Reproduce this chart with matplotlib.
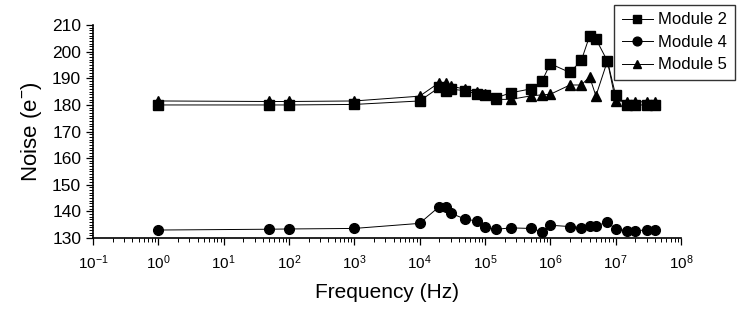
import numpy as np
import matplotlib
matplotlib.use('Agg')
import matplotlib.pyplot as plt
from matplotlib.ticker import MultipleLocator, LogLocator, NullFormatter

plt.rcParams['font.family'] = ['Liberation Sans', 'DejaVu Sans']
plt.rcParams['mathtext.fontset'] = 'custom'
plt.rcParams['mathtext.rm'] = 'Liberation Sans'

# Frequencies (Hz)
freq = [1, 50, 100, 1e3, 1e4, 2e4, 2.5e4, 3e4, 5e4, 7.5e4, 1e5, 1.5e5, 2.5e5,
        5e5, 7.5e5, 1e6, 2e6, 3e6, 4e6, 5e6, 7.5e6, 1e7, 1.5e7, 2e7, 3e7, 4e7]

# Noise values (e-)
module2 = [180.0, 180.0, 180.0, 180.2, 181.5, 186.6, 185.4, 185.9, 185.4, 184.1,
           183.8, 182.7, 184.6, 186.0, 189.0, 195.5, 192.2, 196.8, 205.9, 204.8,
           196.5, 183.8, 180.0, 180.0, 180.0, 180.0]
module4 = [133.0, 133.3, 133.4, 133.6, 135.5, 141.8, 141.5, 139.3, 137.1, 136.4,
           134.0, 133.3, 133.8, 133.6, 132.4, 134.8, 134.3, 133.9, 134.6, 134.6,
           135.9, 133.4, 132.8, 132.8, 133.0, 133.0]
module5 = [181.5, 181.3, 181.3, 181.5, 183.3, 188.4, 188.2, 187.1, 185.9, 185.0,
           184.1, 182.1, 182.1, 183.4, 183.8, 184.0, 187.5, 187.5, 190.6, 183.4,
           196.5, 181.6, 181.2, 181.2, 181.2, 181.2]

fig = plt.figure(figsize=(7.47, 3.14), dpi=100)
ax = fig.add_axes([0.1245, 0.242, 0.787, 0.678])

line_kw = dict(color='black', linewidth=0.7, markersize=7)
ax.plot(freq, module2, marker='s', label='Module 2', **line_kw)
ax.plot(freq, module4, marker='o', label='Module 4', **line_kw)
ax.plot(freq, module5, marker='^', label='Module 5', **line_kw)

ax.set_xscale('log')
ax.set_xlim(1e-1, 1e8)
ax.set_ylim(130, 210)

# Ticks
ax.xaxis.set_major_locator(LogLocator(base=10, numticks=20))
ax.xaxis.set_minor_locator(LogLocator(base=10, subs=np.arange(2, 10), numticks=20))
ax.xaxis.set_minor_formatter(NullFormatter())
ax.yaxis.set_major_locator(MultipleLocator(10))
ax.yaxis.set_minor_locator(MultipleLocator(1))
ax.tick_params(which='major', direction='out', length=5, width=0.9, labelsize=12.5)
ax.tick_params(which='minor', direction='out', length=3, width=0.7)
ax.tick_params(axis='x', labelsize=11, pad=6)

for side in ['top', 'right']:
    ax.spines[side].set_visible(False)
for side in ['left', 'bottom']:
    ax.spines[side].set_linewidth(1.2)

# Labels
ax.set_xlabel('Frequency (Hz)', fontsize=15, labelpad=8)
ax.set_ylabel('Noise (e$^{-}$)', fontsize=16, labelpad=6)

# Legend sits above the right end of the axes
leg = fig.legend(loc='upper right', bbox_to_anchor=(0.988, 0.995), fontsize=12,
                 frameon=True, fancybox=False, edgecolor='black',
                 handlelength=1.9, borderpad=0.45, labelspacing=0.45, handletextpad=0.3,
                 borderaxespad=0.2, markerscale=0.9)
leg.get_frame().set_linewidth(1.0)

plt.savefig('out.png', dpi=100)
plt.close()
